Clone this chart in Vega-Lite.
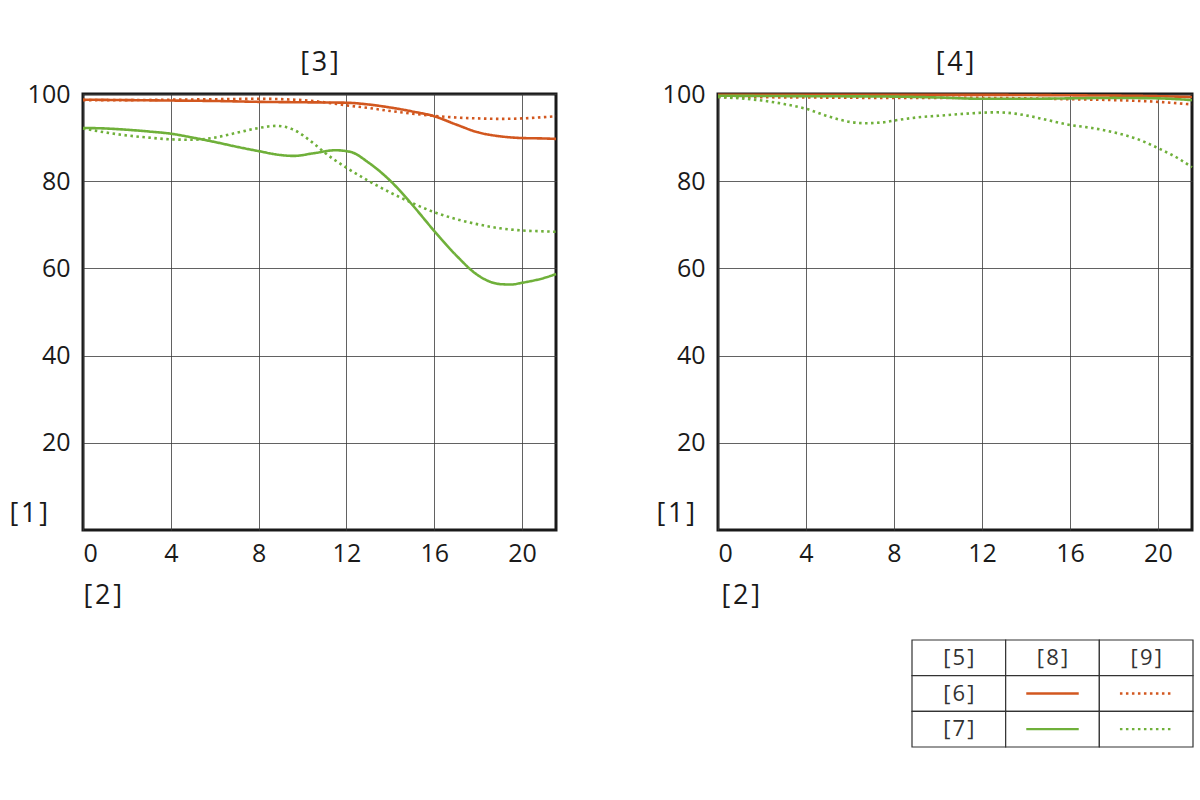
{
  "$schema": "https://vega.github.io/schema/vega-lite/v6.json",
  "padding": {"left": 7, "top": 47, "right": 3, "bottom": 5},
  "background": "white",
  "config": {
    "font": "Open Sans",
    "view": {"stroke": "#1a1a1a", "strokeWidth": 3},
    "axis": {
      "domain": false, "ticks": false, "grid": true, "gridColor": "#3a3a3a", "gridWidth": 0.8,
      "labelFont": "Open Sans", "labelFontSize": 25, "labelColor": "#1a1a1a",
      "titleFont": "Open Sans", "titleFontSize": 27, "titleFontWeight": "normal", "titleColor": "#1a1a1a"
    },
    "axisX": {"labelPadding": 11},
    "axisY": {"labelPadding": 13},
    "title": {"font": "Open Sans", "fontSize": 27, "fontWeight": "normal", "color": "#1a1a1a", "offset": 5},
    "line": {"strokeWidth": 2.6, "interpolate": "monotone"},
    "concat": {"spacing": 91}
  },
  "datasets": {
    "mtf": [
      {"panel": "[3]", "freq": "[6]", "line": "[8]", "x": 0, "y": 98.7},
      {"panel": "[3]", "freq": "[6]", "line": "[8]", "x": 2, "y": 98.6},
      {"panel": "[3]", "freq": "[6]", "line": "[8]", "x": 4, "y": 98.5},
      {"panel": "[3]", "freq": "[6]", "line": "[8]", "x": 6, "y": 98.4},
      {"panel": "[3]", "freq": "[6]", "line": "[8]", "x": 8, "y": 98.2},
      {"panel": "[3]", "freq": "[6]", "line": "[8]", "x": 10, "y": 98.1},
      {"panel": "[3]", "freq": "[6]", "line": "[8]", "x": 12, "y": 98.0},
      {"panel": "[3]", "freq": "[6]", "line": "[8]", "x": 13, "y": 97.6},
      {"panel": "[3]", "freq": "[6]", "line": "[8]", "x": 14, "y": 96.9},
      {"panel": "[3]", "freq": "[6]", "line": "[8]", "x": 15, "y": 96.0},
      {"panel": "[3]", "freq": "[6]", "line": "[8]", "x": 16, "y": 94.9},
      {"panel": "[3]", "freq": "[6]", "line": "[8]", "x": 17, "y": 93.0},
      {"panel": "[3]", "freq": "[6]", "line": "[8]", "x": 18, "y": 91.2},
      {"panel": "[3]", "freq": "[6]", "line": "[8]", "x": 19, "y": 90.3},
      {"panel": "[3]", "freq": "[6]", "line": "[8]", "x": 20, "y": 89.9},
      {"panel": "[3]", "freq": "[6]", "line": "[8]", "x": 21, "y": 89.8},
      {"panel": "[3]", "freq": "[6]", "line": "[8]", "x": 21.55, "y": 89.7},

      {"panel": "[3]", "freq": "[6]", "line": "[9]", "x": 0, "y": 98.6},
      {"panel": "[3]", "freq": "[6]", "line": "[9]", "x": 2, "y": 98.6},
      {"panel": "[3]", "freq": "[6]", "line": "[9]", "x": 4, "y": 98.7},
      {"panel": "[3]", "freq": "[6]", "line": "[9]", "x": 6, "y": 98.8},
      {"panel": "[3]", "freq": "[6]", "line": "[9]", "x": 8, "y": 98.9},
      {"panel": "[3]", "freq": "[6]", "line": "[9]", "x": 10, "y": 98.6},
      {"panel": "[3]", "freq": "[6]", "line": "[9]", "x": 11, "y": 98.1},
      {"panel": "[3]", "freq": "[6]", "line": "[9]", "x": 12, "y": 97.4},
      {"panel": "[3]", "freq": "[6]", "line": "[9]", "x": 13, "y": 96.8},
      {"panel": "[3]", "freq": "[6]", "line": "[9]", "x": 14, "y": 96.1},
      {"panel": "[3]", "freq": "[6]", "line": "[9]", "x": 15, "y": 95.5},
      {"panel": "[3]", "freq": "[6]", "line": "[9]", "x": 16, "y": 95.0},
      {"panel": "[3]", "freq": "[6]", "line": "[9]", "x": 17, "y": 94.6},
      {"panel": "[3]", "freq": "[6]", "line": "[9]", "x": 18, "y": 94.4},
      {"panel": "[3]", "freq": "[6]", "line": "[9]", "x": 19, "y": 94.3},
      {"panel": "[3]", "freq": "[6]", "line": "[9]", "x": 20, "y": 94.4},
      {"panel": "[3]", "freq": "[6]", "line": "[9]", "x": 21, "y": 94.7},
      {"panel": "[3]", "freq": "[6]", "line": "[9]", "x": 21.55, "y": 94.9},

      {"panel": "[3]", "freq": "[7]", "line": "[8]", "x": 0, "y": 92.2},
      {"panel": "[3]", "freq": "[7]", "line": "[8]", "x": 1, "y": 92.1},
      {"panel": "[3]", "freq": "[7]", "line": "[8]", "x": 2, "y": 91.8},
      {"panel": "[3]", "freq": "[7]", "line": "[8]", "x": 3, "y": 91.4},
      {"panel": "[3]", "freq": "[7]", "line": "[8]", "x": 4, "y": 90.9},
      {"panel": "[3]", "freq": "[7]", "line": "[8]", "x": 5, "y": 90.0},
      {"panel": "[3]", "freq": "[7]", "line": "[8]", "x": 6, "y": 89.0},
      {"panel": "[3]", "freq": "[7]", "line": "[8]", "x": 7, "y": 87.9},
      {"panel": "[3]", "freq": "[7]", "line": "[8]", "x": 8, "y": 86.9},
      {"panel": "[3]", "freq": "[7]", "line": "[8]", "x": 9, "y": 86.0},
      {"panel": "[3]", "freq": "[7]", "line": "[8]", "x": 9.6, "y": 85.8},
      {"panel": "[3]", "freq": "[7]", "line": "[8]", "x": 10.5, "y": 86.4},
      {"panel": "[3]", "freq": "[7]", "line": "[8]", "x": 11.5, "y": 87.1},
      {"panel": "[3]", "freq": "[7]", "line": "[8]", "x": 12.2, "y": 86.7},
      {"panel": "[3]", "freq": "[7]", "line": "[8]", "x": 13, "y": 84.3},
      {"panel": "[3]", "freq": "[7]", "line": "[8]", "x": 14, "y": 80.1},
      {"panel": "[3]", "freq": "[7]", "line": "[8]", "x": 15, "y": 74.6},
      {"panel": "[3]", "freq": "[7]", "line": "[8]", "x": 16, "y": 68.6},
      {"panel": "[3]", "freq": "[7]", "line": "[8]", "x": 17, "y": 63.0},
      {"panel": "[3]", "freq": "[7]", "line": "[8]", "x": 18, "y": 58.4},
      {"panel": "[3]", "freq": "[7]", "line": "[8]", "x": 19, "y": 56.4},
      {"panel": "[3]", "freq": "[7]", "line": "[8]", "x": 19.5, "y": 56.3},
      {"panel": "[3]", "freq": "[7]", "line": "[8]", "x": 20, "y": 56.7},
      {"panel": "[3]", "freq": "[7]", "line": "[8]", "x": 21, "y": 57.8},
      {"panel": "[3]", "freq": "[7]", "line": "[8]", "x": 21.55, "y": 58.7},

      {"panel": "[3]", "freq": "[7]", "line": "[9]", "x": 0, "y": 92.1},
      {"panel": "[3]", "freq": "[7]", "line": "[9]", "x": 1, "y": 91.2},
      {"panel": "[3]", "freq": "[7]", "line": "[9]", "x": 2, "y": 90.5},
      {"panel": "[3]", "freq": "[7]", "line": "[9]", "x": 3, "y": 90.0},
      {"panel": "[3]", "freq": "[7]", "line": "[9]", "x": 4, "y": 89.6},
      {"panel": "[3]", "freq": "[7]", "line": "[9]", "x": 5, "y": 89.5},
      {"panel": "[3]", "freq": "[7]", "line": "[9]", "x": 6, "y": 90.0},
      {"panel": "[3]", "freq": "[7]", "line": "[9]", "x": 7, "y": 91.1},
      {"panel": "[3]", "freq": "[7]", "line": "[9]", "x": 8, "y": 92.2},
      {"panel": "[3]", "freq": "[7]", "line": "[9]", "x": 8.8, "y": 92.7},
      {"panel": "[3]", "freq": "[7]", "line": "[9]", "x": 9.5, "y": 92.0},
      {"panel": "[3]", "freq": "[7]", "line": "[9]", "x": 10.5, "y": 88.7},
      {"panel": "[3]", "freq": "[7]", "line": "[9]", "x": 11, "y": 86.6},
      {"panel": "[3]", "freq": "[7]", "line": "[9]", "x": 12, "y": 83.1},
      {"panel": "[3]", "freq": "[7]", "line": "[9]", "x": 13, "y": 80.1},
      {"panel": "[3]", "freq": "[7]", "line": "[9]", "x": 14, "y": 77.4},
      {"panel": "[3]", "freq": "[7]", "line": "[9]", "x": 15, "y": 75.0},
      {"panel": "[3]", "freq": "[7]", "line": "[9]", "x": 16, "y": 72.9},
      {"panel": "[3]", "freq": "[7]", "line": "[9]", "x": 17, "y": 71.3},
      {"panel": "[3]", "freq": "[7]", "line": "[9]", "x": 18, "y": 70.1},
      {"panel": "[3]", "freq": "[7]", "line": "[9]", "x": 19, "y": 69.2},
      {"panel": "[3]", "freq": "[7]", "line": "[9]", "x": 20, "y": 68.7},
      {"panel": "[3]", "freq": "[7]", "line": "[9]", "x": 21, "y": 68.5},
      {"panel": "[3]", "freq": "[7]", "line": "[9]", "x": 21.55, "y": 68.4},

      {"panel": "[4]", "freq": "[6]", "line": "[8]", "x": 0, "y": 99.8},
      {"panel": "[4]", "freq": "[6]", "line": "[8]", "x": 4, "y": 99.8},
      {"panel": "[4]", "freq": "[6]", "line": "[8]", "x": 8, "y": 99.8},
      {"panel": "[4]", "freq": "[6]", "line": "[8]", "x": 12, "y": 99.8},
      {"panel": "[4]", "freq": "[6]", "line": "[8]", "x": 16, "y": 99.7},
      {"panel": "[4]", "freq": "[6]", "line": "[8]", "x": 20, "y": 99.5},
      {"panel": "[4]", "freq": "[6]", "line": "[8]", "x": 21.55, "y": 99.3},

      {"panel": "[4]", "freq": "[6]", "line": "[9]", "x": 0, "y": 99.3},
      {"panel": "[4]", "freq": "[6]", "line": "[9]", "x": 4, "y": 99.2},
      {"panel": "[4]", "freq": "[6]", "line": "[9]", "x": 8, "y": 99.1},
      {"panel": "[4]", "freq": "[6]", "line": "[9]", "x": 12, "y": 99.1},
      {"panel": "[4]", "freq": "[6]", "line": "[9]", "x": 14, "y": 99.0},
      {"panel": "[4]", "freq": "[6]", "line": "[9]", "x": 16, "y": 98.8},
      {"panel": "[4]", "freq": "[6]", "line": "[9]", "x": 18, "y": 98.6},
      {"panel": "[4]", "freq": "[6]", "line": "[9]", "x": 20, "y": 98.2},
      {"panel": "[4]", "freq": "[6]", "line": "[9]", "x": 21.55, "y": 97.6},

      {"panel": "[4]", "freq": "[7]", "line": "[8]", "x": 0, "y": 99.6},
      {"panel": "[4]", "freq": "[7]", "line": "[8]", "x": 4, "y": 99.5},
      {"panel": "[4]", "freq": "[7]", "line": "[8]", "x": 8, "y": 99.4},
      {"panel": "[4]", "freq": "[7]", "line": "[8]", "x": 10, "y": 99.2},
      {"panel": "[4]", "freq": "[7]", "line": "[8]", "x": 12, "y": 98.9},
      {"panel": "[4]", "freq": "[7]", "line": "[8]", "x": 14, "y": 98.9},
      {"panel": "[4]", "freq": "[7]", "line": "[8]", "x": 16, "y": 99.0},
      {"panel": "[4]", "freq": "[7]", "line": "[8]", "x": 18, "y": 99.1},
      {"panel": "[4]", "freq": "[7]", "line": "[8]", "x": 20, "y": 99.0},
      {"panel": "[4]", "freq": "[7]", "line": "[8]", "x": 21.55, "y": 98.6},

      {"panel": "[4]", "freq": "[7]", "line": "[9]", "x": 0, "y": 99.3},
      {"panel": "[4]", "freq": "[7]", "line": "[9]", "x": 1, "y": 99.0},
      {"panel": "[4]", "freq": "[7]", "line": "[9]", "x": 2, "y": 98.5},
      {"panel": "[4]", "freq": "[7]", "line": "[9]", "x": 3, "y": 97.7},
      {"panel": "[4]", "freq": "[7]", "line": "[9]", "x": 4, "y": 96.6},
      {"panel": "[4]", "freq": "[7]", "line": "[9]", "x": 5, "y": 94.9},
      {"panel": "[4]", "freq": "[7]", "line": "[9]", "x": 6, "y": 93.6},
      {"panel": "[4]", "freq": "[7]", "line": "[9]", "x": 6.7, "y": 93.3},
      {"panel": "[4]", "freq": "[7]", "line": "[9]", "x": 7.5, "y": 93.5},
      {"panel": "[4]", "freq": "[7]", "line": "[9]", "x": 8, "y": 93.9},
      {"panel": "[4]", "freq": "[7]", "line": "[9]", "x": 9, "y": 94.6},
      {"panel": "[4]", "freq": "[7]", "line": "[9]", "x": 10, "y": 95.0},
      {"panel": "[4]", "freq": "[7]", "line": "[9]", "x": 11, "y": 95.4},
      {"panel": "[4]", "freq": "[7]", "line": "[9]", "x": 12, "y": 95.7},
      {"panel": "[4]", "freq": "[7]", "line": "[9]", "x": 12.7, "y": 95.8},
      {"panel": "[4]", "freq": "[7]", "line": "[9]", "x": 13.5, "y": 95.5},
      {"panel": "[4]", "freq": "[7]", "line": "[9]", "x": 14, "y": 95.1},
      {"panel": "[4]", "freq": "[7]", "line": "[9]", "x": 15, "y": 94.0},
      {"panel": "[4]", "freq": "[7]", "line": "[9]", "x": 16, "y": 92.9},
      {"panel": "[4]", "freq": "[7]", "line": "[9]", "x": 17, "y": 92.2},
      {"panel": "[4]", "freq": "[7]", "line": "[9]", "x": 18, "y": 91.2},
      {"panel": "[4]", "freq": "[7]", "line": "[9]", "x": 19, "y": 89.8},
      {"panel": "[4]", "freq": "[7]", "line": "[9]", "x": 20, "y": 87.6},
      {"panel": "[4]", "freq": "[7]", "line": "[9]", "x": 21, "y": 85.0},
      {"panel": "[4]", "freq": "[7]", "line": "[9]", "x": 21.55, "y": 83.2}
    ],
    "cells": [
      {"row": 0, "col": 0, "label": "[\u200a5\u200a]"},
      {"row": 0, "col": 1, "label": "[\u200a8\u200a]"},
      {"row": 0, "col": 2, "label": "[\u200a9\u200a]"},
      {"row": 1, "col": 0, "label": "[\u200a6\u200a]"},
      {"row": 1, "col": 1, "label": ""},
      {"row": 1, "col": 2, "label": ""},
      {"row": 2, "col": 0, "label": "[\u200a7\u200a]"},
      {"row": 2, "col": 1, "label": ""},
      {"row": 2, "col": 2, "label": ""}
    ],
    "samples": [
      {"row": 1, "col": 1, "freq": "[6]", "line": "[8]"},
      {"row": 1, "col": 2, "freq": "[6]", "line": "[9]"},
      {"row": 2, "col": 1, "freq": "[7]", "line": "[8]"},
      {"row": 2, "col": 2, "freq": "[7]", "line": "[9]"}
    ]
  },
  "hconcat": [
    {
      "width": 473,
      "height": 436,
      "title": "[\u200a3\u200a]",
      "data": {"name": "mtf"},
      "transform": [{"filter": "datum.panel === '[3]'"}],
      "mark": {"type": "line"},
      "encoding": {
        "x": {"field": "x", "type": "quantitative", "scale": {"domain": [0, 21.55], "nice": false},
              "axis": {"values": [0, 4, 8, 12, 16, 20], "title": "[\u200a2\u200a]", "titleAlign": "left", "titleAnchor": "start", "titleX": 0, "titleY": 73, "titleBaseline": "alphabetic"}},
        "y": {"field": "y", "type": "quantitative", "scale": {"domain": [0, 100], "nice": false},
              "axis": {"values": [20, 40, 60, 80, 100], "title": "[\u200a1\u200a]", "titleAngle": 0, "titleAlign": "left", "titleX": -74, "titleY": 427, "titleBaseline": "alphabetic"}},
        "color": {"field": "freq", "type": "nominal", "scale": {"domain": ["[6]", "[7]"], "range": ["#d2571f", "#6fb03a"]}, "legend": null},
        "strokeDash": {"field": "line", "type": "nominal", "scale": {"domain": ["[8]", "[9]"], "range": [[1, 0], [2.5, 3.5]]}, "legend": null}
      }
    },
    {
      "spacing": 29,
      "vconcat": [
        {
          "width": 474,
          "height": 436,
          "title": "[\u200a4\u200a]",
          "data": {"name": "mtf"},
          "transform": [{"filter": "datum.panel === '[4]'"}],
          "mark": {"type": "line"},
          "encoding": {
            "x": {"field": "x", "type": "quantitative", "scale": {"domain": [0, 21.55], "nice": false},
                  "axis": {"values": [0, 4, 8, 12, 16, 20], "title": "[\u200a2\u200a]", "titleAlign": "left", "titleAnchor": "start", "titleX": 3, "titleY": 73, "titleBaseline": "alphabetic"}},
            "y": {"field": "y", "type": "quantitative", "scale": {"domain": [0, 100], "nice": false},
                  "axis": {"values": [20, 40, 60, 80, 100], "title": "[\u200a1\u200a]", "titleAngle": 0, "titleAlign": "left", "titleX": -62, "titleY": 427, "titleBaseline": "alphabetic"}},
            "color": {"field": "freq", "type": "nominal", "scale": {"domain": ["[6]", "[7]"], "range": ["#d2571f", "#6fb03a"]}, "legend": null},
            "strokeDash": {"field": "line", "type": "nominal", "scale": {"domain": ["[8]", "[9]"], "range": [[1, 0], [2.5, 3.5]]}, "legend": null}
          }
        },
        {
          "width": 476,
          "height": 107,
          "view": {"stroke": null},
          "layer": [
            {
              "data": {"name": "cells"},
              "mark": {"type": "rect", "fill": "white", "stroke": "#333333", "strokeWidth": 1.2},
              "encoding": {
                "x": {"field": "col", "type": "ordinal", "scale": {"type": "band", "range": [194, 475], "paddingInner": 0, "paddingOuter": 0}, "axis": null},
                "y": {"field": "row", "type": "ordinal", "scale": {"type": "band", "range": [0, 107], "paddingInner": 0, "paddingOuter": 0}, "axis": null}
              }
            },
            {
              "data": {"name": "cells"},
              "transform": [{"filter": "datum.label !== ''"}],
              "mark": {"type": "text", "fontSize": 22, "color": "#333333", "font": "Open Sans"},
              "encoding": {
                "x": {"field": "col", "type": "ordinal", "bandPosition": 0.5},
                "y": {"field": "row", "type": "ordinal", "bandPosition": 0.5},
                "text": {"field": "label"}
              }
            },
            {
              "data": {"name": "samples"},
              "mark": {"type": "rule", "strokeWidth": 2.4},
              "encoding": {
                "x": {"field": "col", "type": "ordinal", "bandPosition": 0.22},
                "x2": {"field": "col", "bandPosition": 0.78},
                "y": {"field": "row", "type": "ordinal", "bandPosition": 0.5},
                "color": {"field": "freq", "type": "nominal", "legend": null},
                "strokeDash": {"field": "line", "type": "nominal", "legend": null}
              }
            }
          ]
        }
      ]
    }
  ]
}
